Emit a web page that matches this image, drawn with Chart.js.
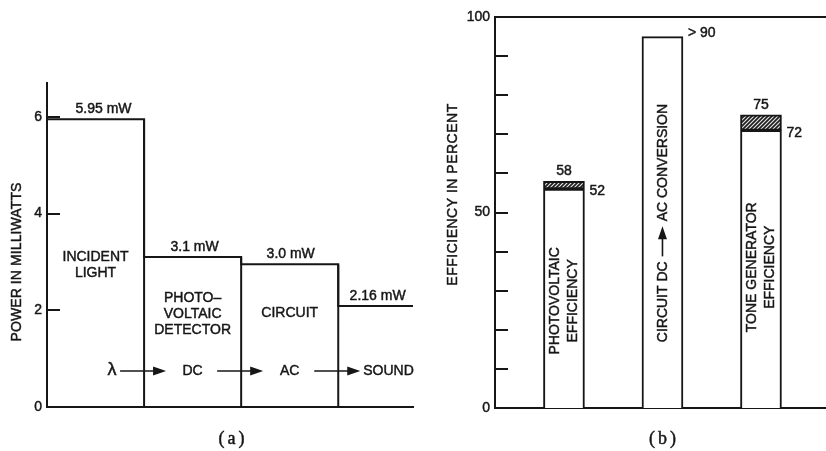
<!DOCTYPE html>
<html><head><meta charset="utf-8">
<script src="https://cdn.jsdelivr.net/npm/chart.js@4"></script>
<style>
html,body{margin:0;padding:0;background:#fff;}
#wrap{position:relative;width:826px;height:451px;overflow:hidden;background:#fff;}
canvas{position:absolute;top:0;}
#ca{left:0;} #cb{left:420px;}
</style></head><body>
<div id="wrap"><canvas id="ca" width="420" height="451"></canvas><canvas id="cb" width="406" height="451"></canvas></div>
<script>
// ---------- Panel (a) data ----------
const stageBounds = [0, 1, 2, 3, 3.77];
const stagePower = [5.95, 3.1, 2.95, 2.09];
const powerLabels = ['5.95 mW', '3.1 mW', '3.0 mW', '2.16 mW'];
const stageNames = [['INCIDENT', 'LIGHT'], ['PHOTO\u2013', 'VOLTAIC', 'DETECTOR'], ['CIRCUIT'], []];
const flowLabels = ['\u03bb', 'DC', 'AC', 'SOUND'];
const powerTickStep = 2;
const powerMax = 6.7;
const panelATitle = 'POWER IN MILLIWATTS';

// ---------- Panel (b) data ----------
const effCategories = [1, 2, 3];
const effBase = [56, 95, 71];
const effHatchTop = [58, null, 75];
const effTopLabels = ['58', '', '75'];
const effSideLabels = ['52', '> 90', '72'];
const effNames = [['PHOTOVOLTAIC', 'EFFICIENCY'], ['CIRCUIT DC', 'AC CONVERSION'], ['TONE GENERATOR', 'EFFICIENCY']];
const effTickStep = 10;
const effLabelEvery = 50;
const panelBTitle = 'EFFICIENCY IN PERCENT';
const panelCaptions = ['(a)', '(b)'];

// ---------- styling ----------
const INK = '#161616';
const FAM = "'Liberation Sans', Arial, Helvetica, sans-serif";
const SERIF = "'Liberation Serif', 'Times New Roman', serif";
Chart.defaults.font.family = FAM;
Chart.defaults.font.size = 14;
Chart.defaults.color = INK;

function txt(ctx, s, x, y, align, font, ls) {
  ctx.font = font || ('14px ' + FAM);
  ctx.textAlign = align || 'center';
  ctx.textBaseline = 'middle';
  ctx.letterSpacing = ls || '0px';
  ctx.fillText(s, x, y);
  ctx.lineWidth = 0.45;
  ctx.strokeText(s, x, y);
  ctx.letterSpacing = '0px';
}
function arrow(ctx, x1, x2, y) {
  ctx.lineWidth = 1.6;
  ctx.beginPath(); ctx.moveTo(x1, y); ctx.lineTo(x2 - 8, y); ctx.stroke();
  ctx.beginPath(); ctx.moveTo(x2, y); ctx.lineTo(x2 - 13, y - 4.5); ctx.lineTo(x2 - 13, y + 4.5); ctx.closePath(); ctx.fill();
}
function hatchPattern() {
  const c = document.createElement('canvas'); c.width = 4; c.height = 4;
  const g = c.getContext('2d');
  g.fillStyle = '#e8e8e8'; g.fillRect(0, 0, 4, 4);
  g.strokeStyle = '#1e1e1e'; g.lineWidth = 1.7;
  g.beginPath();
  g.moveTo(0, 4); g.lineTo(4, 0);
  g.moveTo(-1, 1); g.lineTo(1, -1);
  g.moveTo(3, 5); g.lineTo(5, 3);
  g.stroke();
  return g.createPattern(c, 'repeat');
}

const inwardTicks = {
  id: 'inwardTicks',
  afterDraw(chart, args, opts) {
    const y = chart.scales.y, ctx = chart.ctx, left = chart.chartArea.left;
    ctx.save(); ctx.strokeStyle = INK; ctx.lineWidth = 2;
    y.ticks.forEach(t => {
      const py = Math.round(y.getPixelForValue(t.value));
      ctx.beginPath(); ctx.moveTo(left, py); ctx.lineTo(left + opts.length, py); ctx.stroke();
    });
    ctx.restore();
  }
};

// ---------- Panel (a) ----------
const LAB_DX = [8, 2, 1, 2];
const NAME_TOP = [150, 109, 94];
const panelA = {
  id: 'panelA',
  afterDraw(chart) {
    const ctx = chart.ctx, xs = chart.scales.x, ys = chart.scales.y;
    const bottom = chart.chartArea.bottom, top = chart.chartArea.top;
    ctx.save(); ctx.fillStyle = INK; ctx.strokeStyle = INK;
    const mid = i => xs.getPixelForValue((stageBounds[i] + stageBounds[i + 1]) / 2);
    stagePower.forEach((p, i) => txt(ctx, powerLabels[i], mid(i) + LAB_DX[i], ys.getPixelForValue(p) - 10));
    stageNames.forEach((lines, i) => lines.forEach((s, k) => txt(ctx, s, mid(i), bottom - NAME_TOP[i] + k * 16)));
    const fy = bottom - 36;
    const b = i => xs.getPixelForValue(stageBounds[i]);
    txt(ctx, flowLabels[0], b(1) - 32, fy - 1, 'center', '18px ' + FAM);
    for (let i = 1; i <= 3; i++) arrow(ctx, b(i) - 24, b(i) + 22, fy);
    txt(ctx, flowLabels[1], mid(1), fy);
    txt(ctx, flowLabels[2], mid(2), fy);
    txt(ctx, flowLabels[3], b(3) + 25, fy, 'left');
    // axis title
    ctx.save();
    ctx.translate(17, (top + bottom) / 2 + 17);
    ctx.rotate(-Math.PI / 2);
    txt(ctx, panelATitle, 0, 0, 'center', '14px ' + FAM, '0.1px');
    ctx.restore();
    txt(ctx, panelCaptions[0], 233, 439, 'center', '18px ' + SERIF, '3px');
    ctx.restore();
  }
};

const stepData = stageBounds.map((x, i) => ({x: x, y: stagePower[Math.min(i, stagePower.length - 1)]}));
const dividerSets = stageBounds.slice(1, 4).map((x, i) => ({
  data: [{x: x, y: 0}, {x: x, y: stagePower[i]}],
  borderColor: INK, borderWidth: 2, pointRadius: 0, fill: false
}));

new Chart(document.getElementById('ca'), {
  type: 'line',
  data: {datasets: [
    {data: stepData, stepped: 'before', borderColor: INK, borderWidth: 2, pointRadius: 0, fill: false, borderJoinStyle: 'miter'},
    ...dividerSets
  ]},
  options: {
    responsive: false, animation: false, devicePixelRatio: 1, events: [],
    layout: {padding: {left: 0, right: 7, top: 83, bottom: 44}},
    scales: {
      x: {type: 'linear', min: stageBounds[0], max: stageBounds[stageBounds.length - 1], offset: false,
          ticks: {display: false}, grid: {display: false, drawTicks: false},
          border: {display: true, color: INK, width: 2}, afterFit(s) { s.height = 0; }},
      y: {type: 'linear', min: 0, max: powerMax,
          ticks: {stepSize: powerTickStep, includeBounds: false, padding: 5, color: INK, font: {size: 14},
                  textStrokeColor: INK, textStrokeWidth: 0.45},
          grid: {display: false, drawTicks: false},
          border: {display: true, color: INK, width: 2}, afterFit(s) { s.width = 47; }}
    },
    plugins: {legend: {display: false}, tooltip: {enabled: false}, inwardTicks: {length: 13}}
  },
  plugins: [inwardTicks, panelA]
});

// ---------- Panel (b) ----------
const NAME_CV = [27.4, 47.3, 36];
const panelB = {
  id: 'panelB',
  afterDraw(chart) {
    const ctx = chart.ctx, xs = chart.scales.x, ys = chart.scales.y, ca = chart.chartArea;
    ctx.save(); ctx.fillStyle = INK; ctx.strokeStyle = INK;
    // top frame line
    ctx.lineWidth = 2;
    ctx.beginPath(); ctx.moveTo(ca.left - 1, ca.top); ctx.lineTo(ca.right, ca.top); ctx.stroke();
    const half = 20.5;
    effCategories.forEach((c, i) => {
      const cx = xs.getPixelForValue(c);
      const hasHatch = effHatchTop[i] != null;
      if (effTopLabels[i]) txt(ctx, effTopLabels[i], cx, ys.getPixelForValue(effHatchTop[i]) - 10);
      if (effSideLabels[i]) txt(ctx, effSideLabels[i], cx + half + 5, ys.getPixelForValue(effBase[i]) + (hasHatch ? 2.5 : -3), 'left');
      // rotated names
      const cy = ys.getPixelForValue(NAME_CV[i]);
      ctx.save();
      ctx.translate(cx, cy);
      ctx.rotate(-Math.PI / 2);
      const lines = effNames[i];
      if (i === 1) {
        ctx.font = '14px ' + FAM;
        const w1 = ctx.measureText(lines[0]).width, w2 = ctx.measureText(lines[1]).width;
        const gap = 5, al = 30, total = w1 + gap + al + gap + w2;
        let x0 = -total / 2;
        txt(ctx, lines[0], x0, 1, 'left');
        arrow(ctx, x0 + w1 + gap, x0 + w1 + gap + al, 0);
        txt(ctx, lines[1], x0 + w1 + gap + al + gap, 1, 'left');
      } else {
        txt(ctx, lines[0], 0, -9);
        txt(ctx, lines[1], 0, 9);
      }
      ctx.restore();
    });
    // axis title
    ctx.save();
    ctx.translate(33, (ca.top + ca.bottom) / 2 - 18);
    ctx.rotate(-Math.PI / 2);
    txt(ctx, panelBTitle, 0, 0, 'center', '14px ' + FAM, '0.5px');
    ctx.restore();
    txt(ctx, panelCaptions[1], 244, 439, 'center', '18px ' + SERIF, '3px');
    ctx.restore();
  }
};

const baseData = effCategories.map((c, i) => ({x: c, y: effBase[i]}));
const hatchData = effCategories.map((c, i) => effHatchTop[i] == null ? null : {x: c, y: [effBase[i], effHatchTop[i]]}).filter(Boolean);

new Chart(document.getElementById('cb'), {
  type: 'bar',
  data: {datasets: [
    {data: hatchData, backgroundColor: hatchPattern(), borderColor: INK, borderWidth: 2, borderSkipped: false, grouped: false, barThickness: 41},
    {data: baseData, backgroundColor: '#ffffff', borderColor: INK, borderWidth: 2, borderSkipped: 'start', grouped: false, barThickness: 41}
  ]},
  options: {
    responsive: false, animation: false, devicePixelRatio: 1, events: [],
    layout: {padding: {left: 0, right: 0, top: 17, bottom: 43}},
    scales: {
      x: {type: 'linear', min: 0.3, max: 3.66, offset: false,
          ticks: {display: false}, grid: {display: false, drawTicks: false},
          border: {display: true, color: INK, width: 2}, afterFit(s) { s.height = 0; }},
      y: {type: 'linear', min: 0, max: 100,
          ticks: {stepSize: effTickStep, padding: 5, color: INK, font: {size: 14},
                  textStrokeColor: INK, textStrokeWidth: 0.45,
                  callback: v => (v % effLabelEvery === 0 ? String(v) : '')},
          grid: {display: false, drawTicks: false},
          border: {display: true, color: INK, width: 2}, afterFit(s) { s.width = 75; }}
    },
    plugins: {legend: {display: false}, tooltip: {enabled: false}, inwardTicks: {length: 13}}
  },
  plugins: [inwardTicks, panelB]
});
</script>
</body></html>
